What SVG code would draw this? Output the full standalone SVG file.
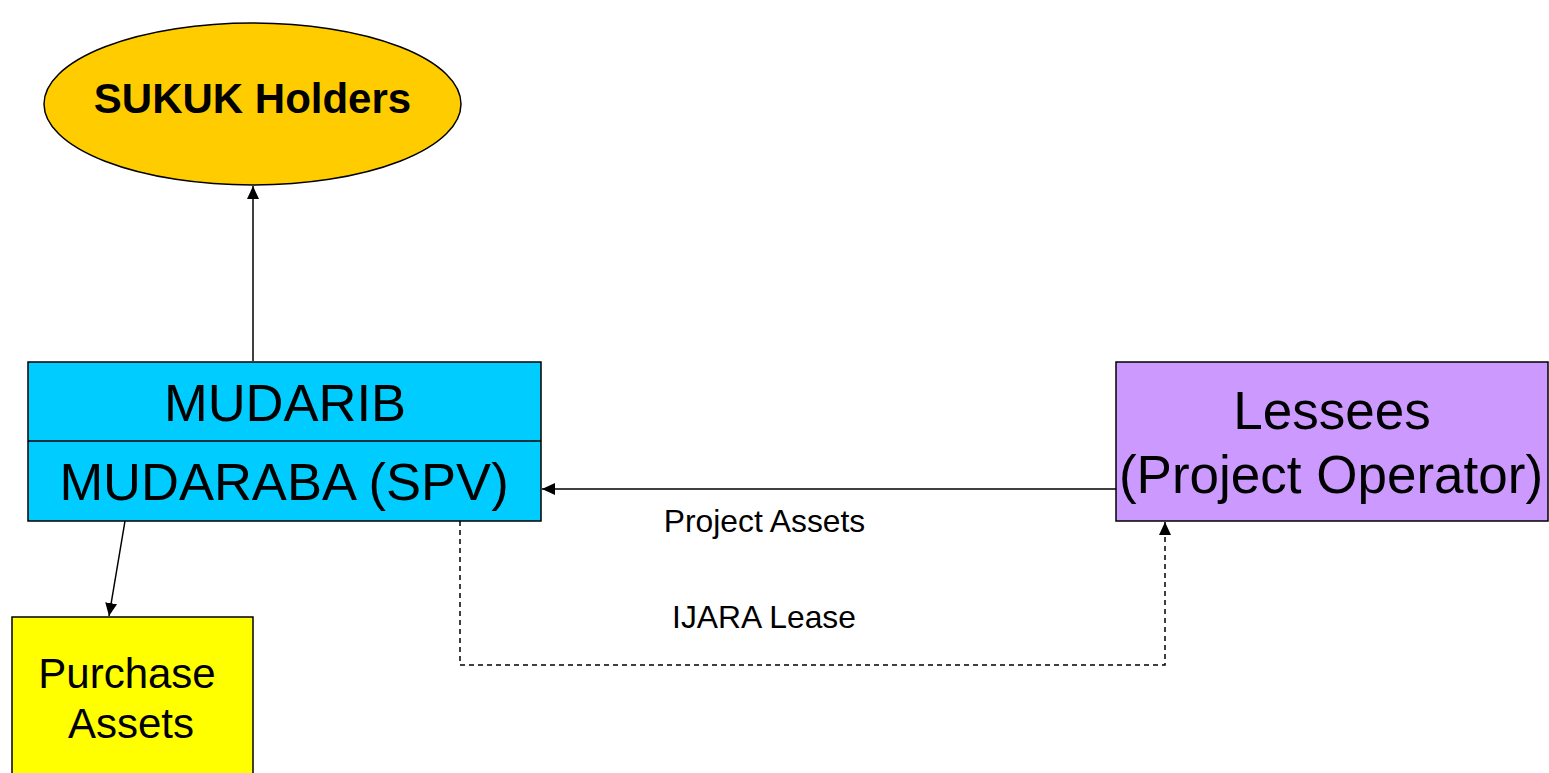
<svg xmlns="http://www.w3.org/2000/svg" width="1549" height="773" viewBox="0 0 1549 773">
<style>
.box{stroke:#000;stroke-width:1.5}
.t{font-family:"Liberation Sans",Arial,sans-serif;fill:#000;text-anchor:middle}
.conn{stroke:#000;stroke-width:1.5;fill:none}
.dash{stroke-dasharray:5,4}
</style>
<defs>
<marker id="arr" markerUnits="userSpaceOnUse" markerWidth="14" markerHeight="12" refX="13" refY="6" orient="auto">
<path d="M0,0 L13,6 L0,12 Z" fill="#000"/>
</marker>
</defs>
<rect width="1549" height="773" fill="#fff"/>
<g id="sukuk">
<ellipse class="box" cx="252.5" cy="104" rx="208.5" ry="81" fill="#FFCC00"/>
<text class="t" x="252.5" y="113" font-size="42" font-weight="bold">SUKUK Holders</text>
</g>
<g id="mudarib">
<rect class="box" x="28" y="362" width="513" height="159" fill="#00CCFF"/>
<line class="box" x1="28" y1="441" x2="541" y2="441"/>
<text class="t" x="285" y="421" font-size="52.5">MUDARIB</text>
<text class="t" x="284" y="500" font-size="52.5">MUDARABA (SPV)</text>
</g>
<g id="lessees">
<rect class="box" x="1116" y="362" width="432" height="159" fill="#CC99FF"/>
<text class="t" x="1332" y="429" font-size="53">Lessees</text>
<text class="t" x="1331" y="493" font-size="53">(Project Operator)</text>
</g>
<g id="purchase">
<rect class="box" x="12" y="617" width="241" height="170" fill="#FFFF00"/>
<text class="t" x="127" y="688" font-size="42">Purchase</text>
<text class="t" x="131" y="738" font-size="42">Assets</text>
</g>
<g id="connectors">
<line class="conn" x1="253" y1="361" x2="253" y2="186" marker-end="url(#arr)"/>
<line class="conn" x1="1116" y1="489" x2="542" y2="489" marker-end="url(#arr)"/>
<line class="conn" x1="125" y1="521" x2="109" y2="616" marker-end="url(#arr)"/>
<polyline class="conn dash" points="460,521 460,665 1165,665 1165,522" marker-end="url(#arr)"/>
<text class="t" x="764.5" y="532" font-size="31.8">Project Assets</text>
<text class="t" x="764" y="628" font-size="31.8">IJARA Lease</text>
</g>
</svg>
